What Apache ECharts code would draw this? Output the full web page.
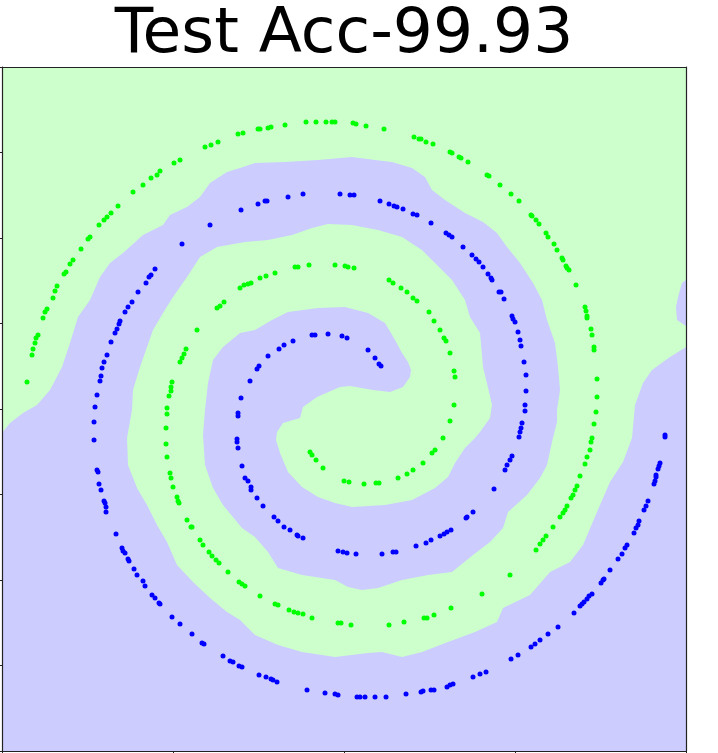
<!DOCTYPE html>
<html><head><meta charset="utf-8">
<script src="https://cdn.jsdelivr.net/npm/echarts@6/dist/echarts.min.js"></script>
<style>html,body{margin:0;padding:0;background:#fff}#c{width:718px;height:753px}</style>
</head><body><div id="c"></div>
<script>
// Chart title
const titleText = 'Test Acc-99.93';
// Axis ranges (no tick labels in the reference)
const xRange = [0, 684];
const yRange = [0, 684];
const xTickStep = 171;
const yTickStep = 85.5;

// Class 1 (green) samples, in plot units
const greenPoints = [[308,299],[310,296],[314,291],[321,283],[342,270],[347,269],[362,267],[374,268],[377,268],[396,273],[405,277],[411,281],[421,288],[430,298],[433,301],[441,313],[448,330],[452,346],[453,374],[452,380],[448,398],[444,410],[442,413],[438,421],[432,430],[427,439],[415,450],[411,453],[405,459],[399,463],[391,468],[387,471],[352,483],[346,484],[343,485],[333,486],[307,486],[296,484],[293,484],[273,478],[264,475],[258,473],[249,468],[246,467],[242,466],[238,463],[222,449],[218,445],[215,443],[195,421],[184,402],[182,397],[180,393],[178,389],[170,369],[169,364],[169,360],[167,355],[165,343],[165,337],[164,323],[164,307],[165,294],[168,278],[169,273],[171,264],[175,254],[176,250],[177,248],[185,231],[189,224],[190,224],[198,211],[201,206],[207,199],[210,195],[214,191],[217,188],[226,179],[237,169],[240,167],[243,165],[258,155],[273,147],[276,146],[287,141],[292,139],[296,138],[301,137],[310,133],[336,128],[339,128],[349,126],[387,126],[402,129],[422,133],[425,133],[432,136],[449,143],[480,157],[508,176],[534,201],[538,207],[541,211],[544,215],[551,224],[558,234],[561,238],[563,241],[565,245],[569,253],[571,256],[573,261],[575,265],[578,275],[583,287],[585,294],[588,301],[589,309],[590,313],[592,327],[594,339],[595,354],[595,372],[592,401],[592,404],[590,416],[589,422],[585,433],[585,435],[584,440],[583,444],[574,466],[567,481],[565,483],[564,485],[561,491],[560,493],[555,501],[552,507],[546,514],[544,518],[537,527],[534,531],[530,535],[529,536],[517,550],[509,557],[498,566],[487,575],[485,576],[466,589],[459,593],[457,594],[450,598],[448,599],[431,607],[424,609],[419,612],[417,612],[412,614],[382,622],[364,625],[354,627],[351,628],[333,629],[330,629],[324,629],[314,629],[304,629],[283,626],[269,624],[266,623],[258,622],[256,622],[241,618],[236,617],[216,609],[209,606],[203,604],[178,591],[172,588],[158,580],[155,576],[149,573],[141,566],[131,559],[116,545],[109,538],[105,534],[102,531],[97,526],[88,514],[86,512],[79,502],[71,491],[68,487],[64,479],[62,477],[55,465],[53,460],[51,453],[45,442],[43,439],[41,433],[36,416],[34,413],[33,408],[31,402],[30,396],[25,369]];

// Class 0 (blue) samples, in plot units
const bluePoints = [[379,385],[377,387],[373,393],[366,401],[345,413],[340,415],[326,417],[313,416],[310,416],[291,410],[282,406],[277,402],[266,395],[257,385],[255,382],[248,370],[239,353],[236,338],[236,335],[235,312],[235,309],[236,303],[240,285],[243,273],[246,270],[249,264],[249,261],[255,253],[261,245],[272,234],[276,230],[282,224],[288,221],[295,216],[296,215],[301,213],[336,200],[341,199],[345,198],[354,197],[380,197],[391,199],[394,199],[414,205],[424,208],[429,211],[438,215],[442,217],[445,219],[449,221],[464,233],[465,234],[471,239],[492,262],[503,281],[505,286],[508,291],[510,295],[517,314],[518,319],[519,323],[520,328],[523,340],[523,346],[524,360],[524,376],[522,389],[519,405],[518,411],[516,419],[513,429],[511,432],[510,435],[502,452],[499,459],[497,459],[490,471],[489,473],[486,477],[481,484],[477,489],[474,492],[470,496],[461,504],[450,514],[447,516],[444,518],[429,528],[415,536],[411,537],[401,542],[395,544],[392,545],[387,547],[378,550],[352,556],[348,556],[338,557],[301,557],[286,554],[265,550],[263,550],[256,547],[239,541],[208,526],[180,507],[153,482],[149,476],[147,474],[144,468],[136,459],[130,449],[126,444],[123,439],[118,430],[117,427],[115,422],[113,418],[109,409],[105,396],[102,389],[100,383],[99,375],[98,370],[95,356],[93,344],[92,329],[92,311],[95,281],[96,279],[97,267],[99,261],[102,250],[103,248],[104,244],[104,239],[114,217],[120,203],[121,200],[123,198],[126,192],[127,190],[132,182],[135,176],[141,170],[143,165],[150,156],[153,153],[157,148],[158,147],[170,134],[178,127],[190,117],[200,108],[202,107],[221,95],[228,90],[231,89],[237,85],[240,84],[257,76],[264,74],[269,72],[271,71],[275,69],[305,61],[323,58],[333,57],[336,56],[355,54],[358,54],[363,54],[373,54],[384,54],[404,57],[419,59],[421,60],[429,61],[432,61],[445,64],[448,66],[451,67],[471,74],[478,77],[484,79],[509,92],[516,96],[529,104],[533,107],[538,111],[546,117],[556,124],[572,138],[578,145],[580,147],[582,149],[585,152],[587,155],[590,157],[599,168],[601,171],[602,172],[608,181],[616,192],[620,197],[623,203],[625,206],[632,218],[634,223],[636,226],[637,230],[642,241],[644,245],[646,250],[652,267],[653,270],[654,274],[654,276],[656,282],[657,285],[658,288],[663,314],[663,316]];

// Decision region predicted as class 0 (blue), outline in plot units
const blueRegion = [[409,381],[408,374],[401,364],[388,359],[371,361],[348,365],[338,364],[315,354],[301,344],[298,333],[281,328],[275,319],[274,311],[278,298],[286,279],[300,264],[316,254],[333,248],[350,244],[383,246],[410,251],[433,263],[446,274],[453,288],[463,303],[473,313],[478,319],[488,333],[490,346],[488,355],[481,384],[478,418],[468,434],[463,451],[450,471],[433,488],[420,501],[400,514],[376,521],[350,526],[326,527],[310,523],[290,516],[266,511],[243,509],[215,504],[198,494],[185,474],[171,454],[161,438],[151,421],[145,404],[138,384],[131,361],[130,341],[125,313],[126,286],[135,263],[145,246],[155,226],[165,209],[175,186],[191,169],[208,153],[225,139],[238,131],[253,116],[276,106],[300,99],[333,94],[366,98],[380,99],[400,94],[420,99],[446,109],[473,119],[495,129],[501,143],[528,156],[548,179],[568,189],[581,206],[595,239],[608,269],[621,289],[630,313],[633,346],[641,368],[650,381],[668,394],[684,404],[684,0],[0,0],[0,318],[8,328],[21,338],[35,346],[48,361],[60,384],[68,408],[76,434],[88,451],[98,474],[108,488],[121,498],[141,516],[161,526],[168,536],[185,544],[198,554],[208,568],[225,579],[238,583],[253,588],[283,589],[316,591],[350,594],[373,591],[390,589],[410,583],[423,574],[430,561],[443,551],[463,538],[481,529],[495,518],[505,504],[518,488],[531,468],[540,451],[545,431],[553,408],[556,384],[558,361],[555,341],[555,329],[550,309],[545,286],[538,273],[525,256],[506,239],[501,223],[488,209],[471,196],[450,179],[426,176],[400,171],[376,163],[360,161],[346,164],[333,171],[300,176],[276,183],[266,199],[253,214],[240,223],[221,246],[211,263],[203,286],[201,316],[203,341],[206,368],[211,391],[221,404],[238,418],[253,421],[270,431],[286,439],[316,443],[343,444],[366,438],[383,428],[393,411],[400,398],[406,389]];

// Small class-0 patch at the right border
const blueBlob = [[684,471],[680,468],[676,454],[674,444],[675,431],[684,425]];

const regionFill = '#ccccff';
function regionItem(pts) {
  return function (params, api) {
    return { type: 'polygon', shape: { points: pts.map(p => api.coord(p)) },
             style: { fill: regionFill, lineWidth: 0 } };
  };
}

const spine = { show: true, onZero: false, lineStyle: { color: '#222', width: 1.2 } };
const chart = echarts.init(document.getElementById('c'), null, { renderer: 'canvas' });
chart.setOption({
  animation: false,
  title: { text: titleText, left: 344, top: 4, textAlign: 'center', padding: 0,
           textStyle: { fontFamily: 'DejaVu Sans', fontSize: 63, fontWeight: 'normal', color: '#000' } },
  grid: { left: 2, top: 67, width: 684, height: 684, show: true, backgroundColor: '#ccffcc', borderWidth: 0 },
  xAxis: [
    { type: 'value', min: xRange[0], max: xRange[1], interval: xTickStep, position: 'bottom', z: 10,
      axisLine: spine, axisTick: { show: true, inside: false, length: 3.5, lineStyle: { color: '#222', width: 1 } },
      axisLabel: { show: false }, splitLine: { show: false } },
    { type: 'value', min: xRange[0], max: xRange[1], interval: xTickStep, position: 'top', z: 10,
      axisLine: spine, axisTick: { show: false }, axisLabel: { show: false }, splitLine: { show: false } }
  ],
  yAxis: [
    { type: 'value', min: yRange[0], max: yRange[1], interval: yTickStep, position: 'left', z: 10,
      axisLine: spine, axisTick: { show: true, inside: false, length: 3.5, lineStyle: { color: '#222', width: 1 } },
      axisLabel: { show: false }, splitLine: { show: false } },
    { type: 'value', min: yRange[0], max: yRange[1], interval: yTickStep, position: 'right', z: 10,
      axisLine: spine, axisTick: { show: false }, axisLabel: { show: false }, splitLine: { show: false } }
  ],
  series: [
    { type: 'custom', renderItem: regionItem(blueRegion), data: [[0, 0]], clip: true, silent: true, z: 1 },
    { type: 'custom', renderItem: regionItem(blueBlob), data: [[0, 0]], clip: true, silent: true, z: 1 },
    { type: 'scatter', data: bluePoints, symbol: 'circle', symbolSize: 5, itemStyle: { color: '#0000ff', opacity: 1 }, z: 3, silent: true },
    { type: 'scatter', data: greenPoints, symbol: 'circle', symbolSize: 5, itemStyle: { color: '#00ff00', opacity: 1 }, z: 3, silent: true }
  ]
});
</script>
</body></html>
